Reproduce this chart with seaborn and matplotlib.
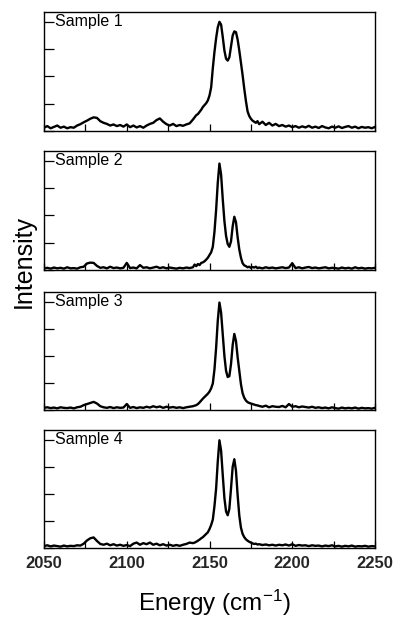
import numpy as np
import pandas as pd
import matplotlib
matplotlib.use("Agg")
import matplotlib.pyplot as plt
import seaborn as sns
from matplotlib.ticker import MultipleLocator, NullFormatter

# Energy grid (cm-1): step 2 on the baseline, step 1 across the peaks
energy = np.concatenate([np.arange(2050, 2140, 2),
                         np.arange(2140, 2180, 1),
                         np.arange(2180, 2251, 2)])

sample_names = ["Sample 1", "Sample 2", "Sample 3", "Sample 4"]

sample1 = [
    0.12, 0.18, 0.10, 0.15, 0.20, 0.12, 0.16, 0.10, 0.14, 0.12,   # 2050-2068
    0.20, 0.25, 0.32, 0.38, 0.45, 0.50, 0.48, 0.36, 0.30, 0.26,   # 2070-2088
    0.20, 0.24, 0.18, 0.22, 0.16, 0.24, 0.14, 0.20, 0.13, 0.18,   # 2090-2108
    0.12, 0.20, 0.26, 0.30, 0.40, 0.46, 0.34, 0.25, 0.20, 0.26,   # 2110-2128
    0.18, 0.22, 0.19, 0.24, 0.28,                                 # 2130-2138
    0.42, 0.50, 0.58, 0.62, 0.70, 0.78, 0.88, 0.95, 1.02, 1.12,   # 2140-2149
    1.30, 1.60, 2.30, 2.90, 3.40, 3.80, 4.00, 3.90, 3.45, 2.95,   # 2150-2159
    2.65, 2.58, 2.70, 3.10, 3.50, 3.65, 3.62, 3.35, 2.95, 2.50,   # 2160-2169
    2.05, 1.55, 1.10, 0.72, 0.55, 0.45, 0.38, 0.34, 0.30, 0.36,   # 2170-2179
    0.25, 0.34, 0.22, 0.30, 0.20, 0.26, 0.18, 0.22, 0.16, 0.20,   # 2180-2198
    0.14, 0.18, 0.12, 0.17, 0.13, 0.19, 0.12, 0.16, 0.11, 0.18,   # 2200-2218
    0.13, 0.10, 0.16, 0.12, 0.17, 0.11, 0.15, 0.18, 0.12, 0.16,   # 2220-2238
    0.10, 0.15, 0.12, 0.14, 0.10, 0.15,                           # 2240-2250
]

sample2 = [
    0.06, 0.08, 0.05, 0.09, 0.06, 0.08, 0.05, 0.10, 0.06, 0.07,
    0.05, 0.10, 0.12, 0.24, 0.27, 0.26, 0.15, 0.08, 0.10, 0.06,
    0.12, 0.07, 0.09, 0.06, 0.08, 0.26, 0.07, 0.09, 0.06, 0.18,
    0.08, 0.10, 0.06, 0.09, 0.12, 0.07, 0.10, 0.06, 0.09, 0.07,
    0.05, 0.08, 0.06, 0.09, 0.07,
    0.10, 0.20, 0.14, 0.22, 0.18, 0.26, 0.28, 0.32, 0.38, 0.45,
    0.55, 0.65, 0.85, 1.40, 2.20, 3.20, 3.90, 3.50, 2.60, 1.80,
    1.25, 0.95, 0.85, 1.05, 1.60, 1.95, 1.75, 1.20, 0.75, 0.45,
    0.25, 0.17, 0.14, 0.10, 0.12, 0.08, 0.11, 0.09, 0.12, 0.07,
    0.09, 0.06, 0.10, 0.07, 0.09, 0.06, 0.08, 0.10, 0.07, 0.09,
    0.25, 0.07, 0.10, 0.06, 0.09, 0.11, 0.07, 0.09, 0.06, 0.08,
    0.10, 0.06, 0.08, 0.07, 0.05, 0.09, 0.06, 0.08, 0.05, 0.10,
    0.06, 0.08, 0.05, 0.07, 0.06, 0.08,
]

sample3 = [
    0.08, 0.10, 0.07, 0.09, 0.06, 0.10, 0.08, 0.07, 0.09, 0.06,
    0.10, 0.12, 0.18, 0.22, 0.26, 0.30, 0.24, 0.14, 0.10, 0.08,
    0.11, 0.07, 0.10, 0.08, 0.09, 0.22, 0.08, 0.11, 0.07, 0.10,
    0.08, 0.12, 0.09, 0.14, 0.10, 0.13, 0.08, 0.12, 0.09, 0.11,
    0.08, 0.10, 0.07, 0.10, 0.12,
    0.14, 0.16, 0.18, 0.22, 0.28, 0.35, 0.42, 0.48, 0.54, 0.60,
    0.68, 0.80, 0.98, 1.50, 2.30, 3.30, 3.97, 3.60, 2.80, 2.00,
    1.45, 1.22, 1.25, 1.70, 2.40, 2.81, 2.55, 1.95, 1.45, 0.95,
    0.62, 0.45, 0.35, 0.29, 0.26, 0.24, 0.22, 0.20, 0.18, 0.17,
    0.15, 0.12, 0.16, 0.10, 0.14, 0.12, 0.11, 0.15, 0.10, 0.22,
    0.12, 0.14, 0.10, 0.13, 0.11, 0.09, 0.12, 0.08, 0.10, 0.07,
    0.09, 0.06, 0.10, 0.07, 0.05, 0.09, 0.06, 0.08, 0.06, 0.09,
    0.05, 0.08, 0.06, 0.07, 0.05, 0.08,
]

sample4 = [
    0.07, 0.10, 0.06, 0.09, 0.07, 0.05, 0.09, 0.06, 0.08, 0.07,
    0.10, 0.09, 0.16, 0.28, 0.36, 0.39, 0.26, 0.15, 0.12, 0.16,
    0.10, 0.14, 0.09, 0.12, 0.08, 0.11, 0.07, 0.16, 0.20, 0.12,
    0.18, 0.14, 0.20, 0.12, 0.16, 0.10, 0.14, 0.09, 0.12, 0.08,
    0.11, 0.08, 0.12, 0.15, 0.20,
    0.18, 0.20, 0.23, 0.27, 0.31, 0.36, 0.40, 0.46, 0.52, 0.58,
    0.70, 0.85, 1.05, 1.55, 2.20, 3.20, 3.98, 3.60, 2.70, 1.85,
    1.35, 1.21, 1.45, 2.20, 3.00, 3.28, 2.85, 1.95, 1.20, 0.75,
    0.52, 0.40, 0.32, 0.27, 0.23, 0.20, 0.17, 0.15, 0.16, 0.13,
    0.14, 0.11, 0.13, 0.10, 0.12, 0.09, 0.12, 0.10, 0.13, 0.09,
    0.14, 0.08, 0.11, 0.09, 0.10, 0.07, 0.10, 0.08, 0.09, 0.06,
    0.09, 0.07, 0.10, 0.06, 0.08, 0.05, 0.08, 0.06, 0.09, 0.05,
    0.07, 0.06, 0.08, 0.05, 0.07, 0.06,
]

x_ticks = [2050, 2100, 2150, 2200, 2250]

frames = []
for name, vals in zip(sample_names, [sample1, sample2, sample3, sample4]):
    frames.append(pd.DataFrame({"energy": energy, "intensity": vals, "sample": name}))
df = pd.concat(frames, ignore_index=True)

sns.set_style("ticks")
plt.rcParams["font.family"] = ["Liberation Sans", "DejaVu Sans"]
plt.rcParams["mathtext.fontset"] = "custom"
plt.rcParams["mathtext.rm"] = "Liberation Sans"
plt.rcParams["mathtext.it"] = "Liberation Sans:italic"
plt.rcParams["mathtext.bf"] = "Liberation Sans:bold"

fig = plt.figure(figsize=(3.96, 6.23), dpi=100)
W, H = 396.0, 623.0
panel_px = [(12, 131), (151, 270), (292, 410), (430, 548)]
left_px, right_px = 44, 375

for i, (name, (top, bot)) in enumerate(zip(sample_names, panel_px)):
    ax = fig.add_axes([left_px / W, 1 - bot / H, (right_px - left_px) / W, (bot - top) / H])
    sns.lineplot(data=df[df["sample"] == name], x="energy", y="intensity",
                 ax=ax, color="black", linewidth=1.7, estimator=None)
    ax.set_xlim(2050, 2250)
    ax.set_ylim(0, 4.36)
    ax.xaxis.set_major_locator(MultipleLocator(50))
    ax.xaxis.set_minor_locator(MultipleLocator(25))
    ax.yaxis.set_major_locator(MultipleLocator(1))
    ax.yaxis.set_major_formatter(NullFormatter())
    ax.tick_params(axis="both", which="both", direction="in", width=0.9, color="black")
    ax.tick_params(axis="y", which="major", length=7)
    ax.tick_params(axis="x", which="major", length=5)
    ax.tick_params(axis="x", which="minor", length=5)
    ax.set_xlabel("")
    ax.set_ylabel("")
    for s in ax.spines.values():
        s.set_linewidth(1.0)
        s.set_color("black")
    if i < 3:
        ax.xaxis.set_major_formatter(NullFormatter())
    else:
        ax.set_xticks(x_ticks)
        ax.set_xticklabels([str(t) for t in x_ticks], fontsize=12, fontweight="bold")
        ax.tick_params(axis="x", pad=6)
    ax.text(0.033, 0.918, name, transform=ax.transAxes, ha="left", va="center",
            fontsize=11.5, color="black")

fig.text(24 / W, 1 - 262 / H, "Intensity", rotation=90, ha="center", va="center",
         fontsize=18, color="black")
fig.text(0.542, 1 - 603 / H, "Energy (cm$^{-1}$)", ha="center", va="center",
         fontsize=17.5, color="black")

fig.savefig("out.png", dpi=100)
